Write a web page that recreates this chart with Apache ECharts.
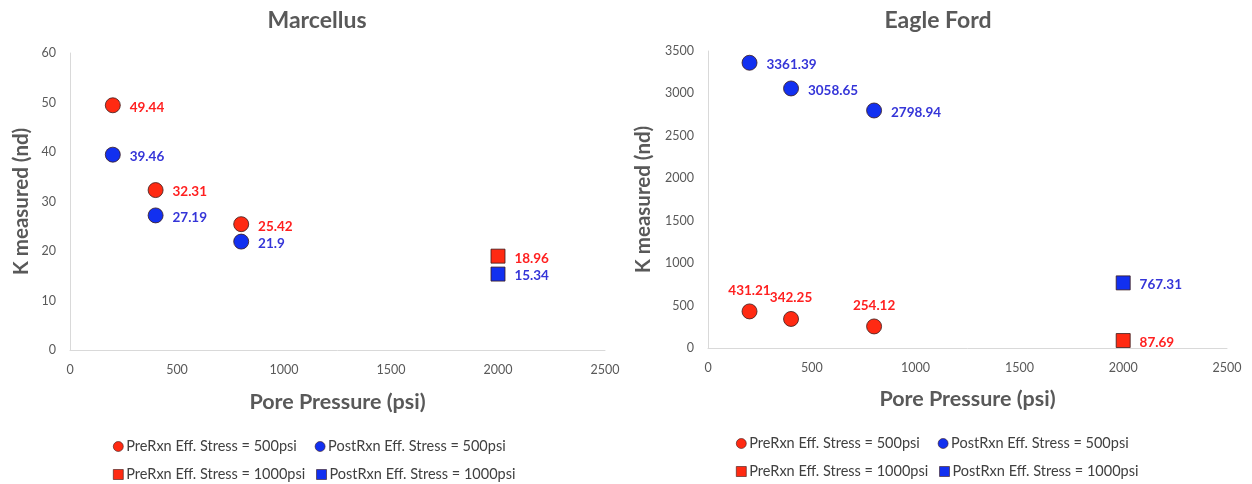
<!DOCTYPE html>
<html>
<head>
<meta charset="utf-8">
<script src="https://cdn.jsdelivr.net/npm/echarts@6/dist/echarts.min.js"></script>
<style>
  html, body { margin: 0; padding: 0; background: #fff; }
  #chart { width: 1252px; height: 484px; }
</style>
</head>
<body>
<div id="chart"></div>
<script>
// pore pressure (psi)
const lowP = [200, 400, 800];
const highP = [2000];

// Marcellus, K measured (nd)
const mPre500 = [49.44, 32.31, 25.42];
const mPost500 = [39.46, 27.19, 21.9];
const mPre1000 = [18.96];
const mPost1000 = [15.34];

// Eagle Ford, K measured (nd)
const ePre500 = [431.21, 342.25, 254.12];
const ePost500 = [3361.39, 3058.65, 2798.94];
const ePre1000 = [87.69];
const ePost1000 = [767.31];

const names = [
  'PreRxn Eff. Stress = 500psi',
  'PostRxn Eff. Stress = 500psi',
  'PreRxn Eff. Stress = 1000psi',
  'PostRxn Eff. Stress = 1000psi'
];

const FONT = 'Lato';
const RED = '#ff2a12';
const BLUE = '#1230f0';
const RED_TXT = '#ff2020';
const BLUE_TXT = '#3535d8';
const GRAY = '#595959';

function pairs(xs, ys) {
  return xs.map((x, i) => [x, ys[i]]);
}

function series(name, idx, xs, ys, color, txt, symbol, pos) {
  return {
    name: name,
    type: 'scatter',
    xAxisIndex: idx,
    yAxisIndex: idx,
    symbol: symbol,
    symbolSize: symbol == 'circle' ? 15 : 14,
    itemStyle: { color: color, borderColor: '#3a1a1a', borderWidth: 0.8, opacity: 1 },
    label: {
      show: true,
      position: pos,
      distance: pos == 'top' ? 6 : 9,
      offset: pos == 'top' ? [0, 0] : [0, 2],
      formatter: p => String(p.value[1]),
      color: txt,
      fontFamily: FONT,
      fontWeight: 'bold',
      fontSize: 13.5
    },
    data: pairs(xs, ys)
  };
}

function xAx(idx) {
  return {
    type: 'value', gridIndex: idx, min: 0, max: 2500, interval: 500,
    name: 'Pore Pressure (psi)', nameLocation: 'middle', nameGap: idx == 0 ? 41 : 40,
    nameTextStyle: { color: GRAY, fontFamily: FONT, fontWeight: 'bold', fontSize: 21.5 },
    axisLine: { lineStyle: { color: '#d9d9d9' } },
    axisTick: { show: false },
    splitLine: { show: false },
    axisLabel: { color: GRAY, fontFamily: FONT, fontSize: 12.5, margin: 13, formatter: v => String(v) }
  };
}

function yAx(idx, max, interval, gap) {
  return {
    type: 'value', gridIndex: idx, min: 0, max: max, interval: interval,
    name: 'K measured (nd)', nameLocation: 'middle', nameGap: gap,
    nameTextStyle: { color: GRAY, fontFamily: FONT, fontWeight: 'bold', fontSize: 20.5 },
    axisLine: { show: true, lineStyle: { color: '#d9d9d9' } },
    axisTick: { show: false },
    splitLine: { show: false },
    axisLabel: { color: GRAY, fontFamily: FONT, fontSize: 12.5, margin: 14, formatter: v => String(v) }
  };
}

function legendRow(left, top, gap, data) {
  return {
    left: left, top: top, itemWidth: 10, itemHeight: 10, itemGap: gap,
    selectedMode: false,
    itemStyle: { borderColor: '#3a1a1a', borderWidth: 0.6 },
    textStyle: { color: '#404040', fontFamily: FONT, fontSize: 14.5, padding: [0, 0, 0, -2] },
    data: data
  };
}

const chart = echarts.init(document.getElementById('chart'));
chart.setOption({
  backgroundColor: '#fff',
  animation: false,
  title: [
    { text: 'Marcellus', left: 312, top: 4, textAlign: 'center',
      textStyle: { color: GRAY, fontFamily: FONT, fontWeight: 'bold', fontSize: 23 } },
    { text: 'Eagle Ford', left: 933, top: 4, textAlign: 'center',
      textStyle: { color: GRAY, fontFamily: FONT, fontWeight: 'bold', fontSize: 23 } }
  ],
  legend: [
    legendRow(108, 434, 18, [{ name: names[0], icon: 'circle' }, { name: names[1], icon: 'circle' }]),
    legendRow(108, 462, 11, [{ name: names[2], icon: 'rect' }, { name: names[3], icon: 'rect' }]),
    legendRow(731, 431, 18, [{ name: names[0], icon: 'circle' }, { name: names[1], icon: 'circle' }]),
    legendRow(731, 459, 11, [{ name: names[2], icon: 'rect' }, { name: names[3], icon: 'rect' }])
  ],
  grid: [
    { left: 70, top: 53, width: 535, height: 297 },
    { left: 708, top: 51, width: 519, height: 297 }
  ],
  xAxis: [xAx(0), xAx(1)],
  yAxis: [yAx(0, 60, 10, 38), yAx(1, 3500, 500, 54)],
  series: [
    series(names[0], 0, lowP, mPre500, RED, RED_TXT, 'circle', 'right'),
    series(names[1], 0, lowP, mPost500, BLUE, BLUE_TXT, 'circle', 'right'),
    series(names[2], 0, highP, mPre1000, RED, RED_TXT, 'rect', 'right'),
    series(names[3], 0, highP, mPost1000, BLUE, BLUE_TXT, 'rect', 'right'),
    series(names[0], 1, lowP, ePre500, RED, RED_TXT, 'circle', 'top'),
    series(names[1], 1, lowP, ePost500, BLUE, BLUE_TXT, 'circle', 'right'),
    series(names[2], 1, highP, ePre1000, RED, RED_TXT, 'rect', 'right'),
    series(names[3], 1, highP, ePost1000, BLUE, BLUE_TXT, 'rect', 'right')
  ]
});
</script>
</body>
</html>
